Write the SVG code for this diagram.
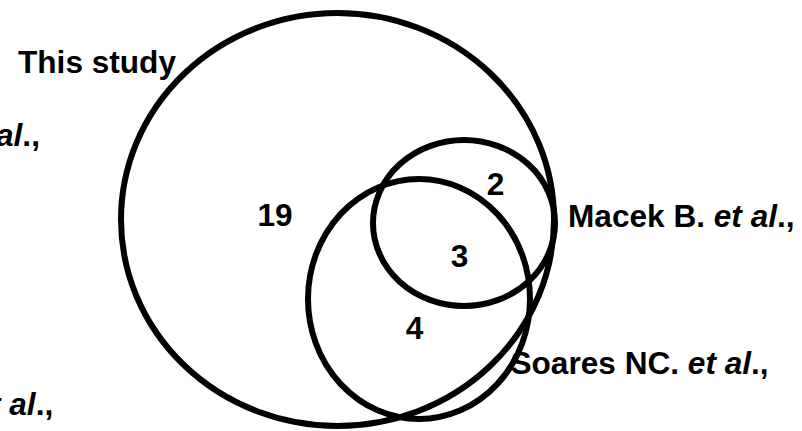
<svg xmlns="http://www.w3.org/2000/svg" width="802" height="431" viewBox="0 0 802 431">
<style>
.set{fill:none;stroke:#000;stroke-width:6}
text{font-family:"Liberation Sans",Arial,sans-serif;font-weight:bold;font-size:31.6px;fill:#000}
.num{text-anchor:middle}
.it{font-style:italic}
</style>
<rect width="802" height="431" fill="#fff"/>
<g id="set-this-study">
<ellipse class="set" cx="337.5" cy="219.5" rx="216.5" ry="206.5"/>
<text x="18" y="73">This study</text>
</g>
<g id="set-macek">
<ellipse class="set" cx="464" cy="223" rx="91" ry="83"/>
<text x="568" y="227">Macek B. <tspan class="it">et al</tspan>.,</text>
</g>
<g id="set-soares">
<ellipse class="set" cx="419" cy="299" rx="111" ry="120"/>
<text x="510.5" y="374">Soares NC. <tspan class="it">et al</tspan>.,</text>
</g>
<g id="set-left-top">
<text x="-4" y="146"><tspan class="it">al</tspan>.,</text>
</g>
<g id="set-left-bottom">
<text x="-10" y="415"><tspan class="it">t al</tspan>.,</text>
</g>
<g id="counts">
<text class="num" x="275" y="226">19</text>
<text class="num" x="495.5" y="195">2</text>
<text class="num" x="459.5" y="267">3</text>
<text class="num" x="414.5" y="339">4</text>
</g>
</svg>
